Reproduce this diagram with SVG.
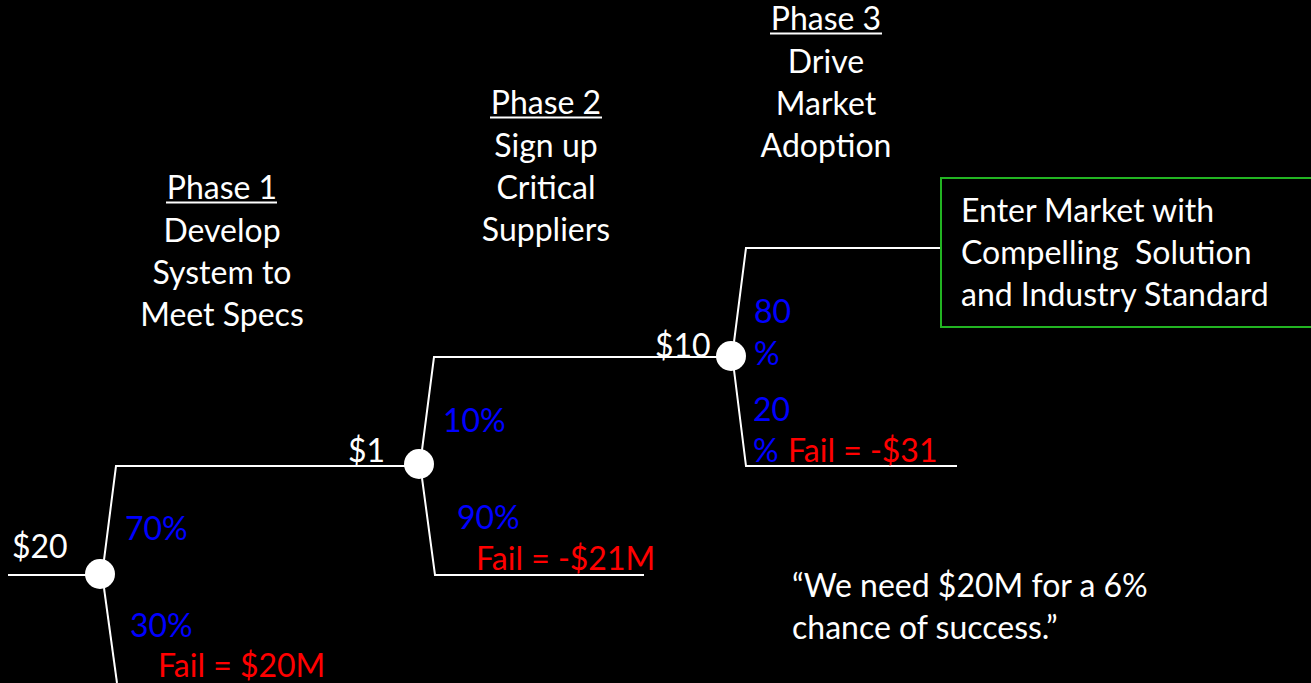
<svg xmlns="http://www.w3.org/2000/svg" width="1311" height="683" viewBox="0 0 1311 683">
<style>
text{font-family:Lato,"Open Sans",sans-serif;font-size:32px}
.w{fill:#fff}
.b{fill:#0000ff}
.r{fill:#ff0000}
.c{text-anchor:middle}
.ln{stroke:#fff;stroke-width:2;fill:none}
.ul{stroke:#fff;stroke-width:2}
.node{fill:#fff}
</style>
<rect width="1311" height="683" fill="#000"/>
<g id="connectors">
<path class="ln" d="M8,575 H100"/>
<path class="ln" d="M104,560 L116,466 H419"/>
<path class="ln" d="M104,588 L117,683"/>
<path class="ln" d="M422,450 L434,357 H731"/>
<path class="ln" d="M422,478 L435,575 H644"/>
<path class="ln" d="M734,342 L746,248 H941"/>
<path class="ln" d="M734,370 L746,466 H957"/>
</g>
<g id="node1"><circle class="node" cx="100" cy="574" r="15"/></g>
<g id="node2"><circle class="node" cx="419" cy="464" r="15"/></g>
<g id="node3"><circle class="node" cx="731" cy="356" r="15"/></g>
<g id="outcome">
<rect x="941" y="178" width="380" height="149" fill="#000" stroke="#22b422" stroke-width="2"/>
<text class="w" x="961" y="222">Enter Market with</text>
<text class="w" x="961" y="264" xml:space="preserve">Compelling  Solution</text>
<text class="w" x="961" y="306">and Industry Standard</text>
</g>
<g id="phase1">
<text class="w c" x="222" y="199">Phase 1</text>
<line class="ul" x1="166" y1="202.5" x2="277" y2="202.5"/>
<text class="w c" x="222" y="242">Develop</text>
<text class="w c" x="222" y="284">System to</text>
<text class="w c" x="222" y="326">Meet Specs</text>
</g>
<g id="phase2">
<text class="w c" x="546" y="114">Phase 2</text>
<line class="ul" x1="490" y1="117.5" x2="602" y2="117.5"/>
<text class="w c" x="546" y="157">Sign up</text>
<text class="w c" x="546" y="199">Critical</text>
<text class="w c" x="546" y="241">Suppliers</text>
</g>
<g id="phase3">
<text class="w c" x="826" y="30">Phase 3</text>
<line class="ul" x1="770" y1="33.5" x2="882" y2="33.5"/>
<text class="w c" x="826" y="73">Drive</text>
<text class="w c" x="826" y="115">Market</text>
<text class="w c" x="826" y="157">Adoption</text>
</g>
<g id="labels">
<text class="w" x="12" y="558">$20</text>
<text class="b" x="125" y="540">70%</text>
<text class="b" x="130" y="637">30%</text>
<text class="r" x="158" y="677">Fail = $20M</text>
<text class="w" x="348" y="462">$1</text>
<text class="b" x="443" y="432">10%</text>
<text class="b" x="457" y="529">90%</text>
<text class="r" x="476" y="570">Fail = -$21M</text>
<text class="w" x="655" y="357">$10</text>
<text class="b" x="754" y="323">80</text>
<text class="b" x="754" y="365">%</text>
<text class="b" x="753" y="421">20</text>
<text class="b" x="753" y="462">%</text>
<text class="r" x="788" y="462">Fail = -$31</text>
</g>
<g id="quote">
<text class="w" x="792" y="597">“We need $20M for a 6%</text>
<text class="w" x="792" y="639">chance of success.”</text>
</g>
</svg>
